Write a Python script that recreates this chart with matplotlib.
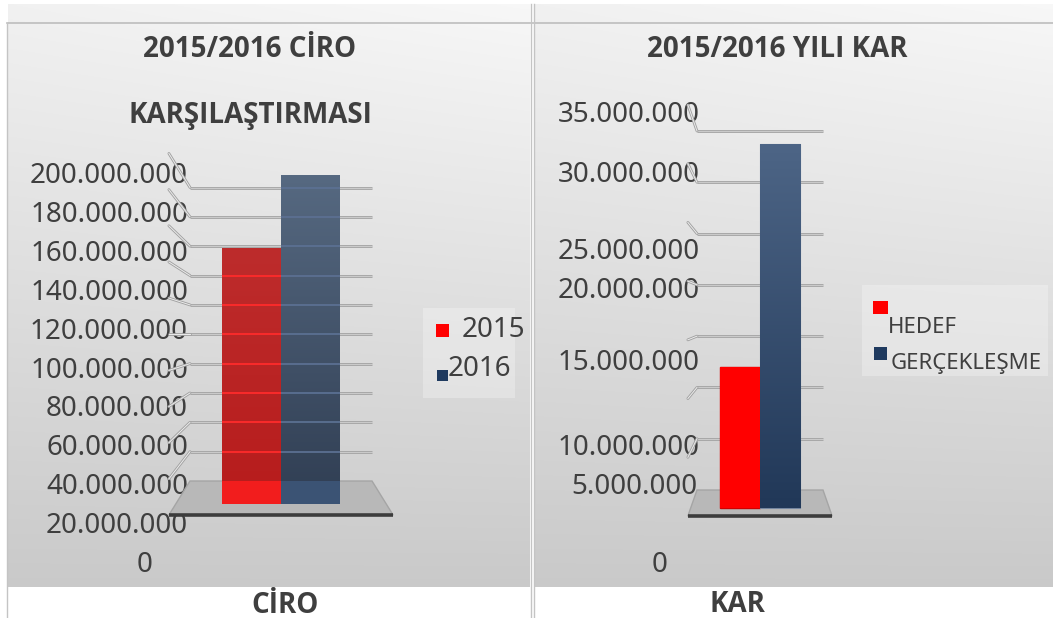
import numpy as np
import matplotlib.pyplot as plt
from matplotlib.colors import to_rgb
from matplotlib.patches import Polygon, Rectangle

W, H = 1053, 618

# data
ciro_labels = ['2015', '2016']
ciro_values = [151_000_000, 194_000_000]
ciro_ticks = list(range(0, 200_000_001, 20_000_000))

kar_labels = ['HEDEF', 'GERÇEKLEŞME']
kar_values = [12_500_000, 32_300_000]
kar_ticks = list(range(0, 35_000_001, 5_000_000))

# colours
TEXT = '#3f3f3f'
FONT = ['Noto Sans', 'DejaVu Sans']
TITLE_FONT = ['Open Sans', 'DejaVu Sans']
legend_colors = ['#ff0000', '#1f3a5f']
ciro_grad = [('#bd2c2c', '#b71c1c'), ('#566981', '#303e53')]
ciro_lower = ['#f21d1d', '#3b5374']
ciro_tint = ['#ff2b2b', '#5b7092']
kar_grad = [('#ff0000', '#ff0000'), ('#4d6586', '#213858')]

# label rows of the value axis on the KAR chart are not evenly spaced in the original
KAR_LABEL_Y = [562, 484, 445, 360, 288, 249, 172, 112]


def fmt(v):
    return f'{v:,}'.replace(',', '.')


fig = plt.figure(figsize=(W / 100, H / 100), dpi=100)
fig.patch.set_facecolor('white')
bg = fig.add_axes([0, 0, 1, 1])
bg.axis('off')
bg.set_autoscale_on(False)
bg.set_xlim(0, W)
bg.set_ylim(H, 0)


def panel(x0, x1, y0, y1):
    yy = np.linspace(0, 1, 300)[:, None]
    xx = np.linspace(0, 1, 60)[None, :]
    v = 0.945 - 0.155 * yy + 0.025 * xx * (1 - yy)
    bg.imshow(np.dstack([v, v, v]), extent=(x0, x1, y1, y0), aspect='auto',
              interpolation='bilinear', zorder=0)


panel(8, 530, 4, 587)
panel(535, W, 4, 587)
bg.plot([7, W], [23, 23], color='#bdbdbd', lw=1.2, zorder=1)
for xl in (7, 531, 534):
    bg.plot([xl, xl], [4 if xl > 7 else 23, H], color='#c4c4c4', lw=1.0, zorder=1)


def chart_axes(box, x0_px, x_px, y0_px, y_px):
    l, t, r, b = box
    ax = fig.add_axes([l / W, 1 - b / H, (r - l) / W, (b - t) / H])
    ax.set_autoscale_on(False)
    ax.set_xlim((l - x0_px) / x_px, (r - x0_px) / x_px)
    ax.set_ylim((y0_px - b) / y_px, (y0_px - t) / y_px)
    ax.axis('off')
    return ax


def proj(x, v, k, vc):
    # simple perspective: k=1 is the back wall, k>1 comes towards the viewer
    return 0.5 + (np.asarray(x) - 0.5) * k, vc + (np.asarray(v) - vc) * k


def gradient_fill(ax, patch, top, bottom, z):
    x0, y0 = patch.get_xy()
    w, h = patch.get_width(), patch.get_height()
    c0, c1 = np.array(to_rgb(top)), np.array(to_rgb(bottom))
    t = np.linspace(0, 1, 100)[:, None]
    img = (c0 * (1 - t) + c1 * t)[:, None, :]
    im = ax.imshow(img, extent=(x0, x0 + w, y0, y0 + h), aspect='auto',
                   origin='upper', zorder=z, interpolation='bilinear')
    im.set_clip_path(patch)


def draw_wall(ax, ticks, vc, kf):
    for g in ticks[1:]:
        ax.plot([0, 1], [g, g], color='#a3a3a3', lw=2.0, solid_capstyle='butt', zorder=2)
        ax.plot([0, 1], [g, g], color='#d2d2d2', lw=0.6, zorder=2)
        xs, ys = proj([0.0, 0.0], [g, g], np.array([1.0, kf]), vc)
        ax.plot(xs, ys, color='#a0a0a0', lw=2.0, solid_capstyle='round', zorder=2)
        ax.plot(xs, ys, color='#ececec', lw=0.7, zorder=2)
    corners = [proj(0, 0, 1, vc), proj(1, 0, 1, vc), proj(1, 0, kf, vc), proj(0, 0, kf, vc)]
    ax.add_patch(Polygon(corners, closed=True, facecolor='#b8b8b8',
                         edgecolor='#a5a5a5', lw=1, zorder=1))
    (fx0, fy), (fx1, _) = corners[3], corners[2]
    ax.plot([fx0, fx1], [fy, fy], color='#3c3c3c', lw=2.6, solid_capstyle='butt', zorder=5)


def draw_bars(ax, values, width, kb, vc, grads):
    n = len(values)
    xb = 0.5 + (np.arange(n) - (n - 1) / 2) * width
    xp, yb = proj(xb, np.zeros(n), kb, vc)
    bars = ax.bar(xp, np.array(values) * kb, width=width * kb, bottom=yb,
                  color=[g[1] for g in grads], lw=0, zorder=3)
    for b, (top, bottom) in zip(bars, grads):
        gradient_fill(ax, b, top, bottom, 3.1)
    return bars, xp, yb


# ---- CIRO chart ----
vc1, kf1, kb1 = ciro_ticks[-1] / 2, 1.232, 1.157
ax1 = chart_axes((8, 23, 530, 587), 190, 182, 481, 1.4675e-6)
draw_wall(ax1, ciro_ticks, vc1, kf1)
bars1, xp1, yb1 = draw_bars(ax1, ciro_values, 0.28, kb1, vc1, ciro_grad)
for i, b in enumerate(bars1):
    # part of the bar standing in front of the floor looks brighter
    ax1.bar(xp1[i], -yb1[i], width=0.28 * kb1, bottom=yb1[i], color=ciro_lower[i], lw=0, zorder=3.2)
    for g in ciro_ticks[1:]:
        ln, = ax1.plot([0, 1], [g, g], color=ciro_tint[i], lw=1.3, zorder=3.3)
        ln.set_clip_path(b)

# ---- KAR chart ----
vc2, kf2, kb2 = kar_ticks[-1] / 2, 1.145, 1.10
ax2 = chart_axes((535, 23, W, 587), 697, 126, 490, 10.257e-6)
draw_wall(ax2, kar_ticks, vc2, kf2)
bars2, _, _ = draw_bars(ax2, kar_values, 0.29, kb2, vc2, kar_grad)
bars2[0].set_edgecolor('#d00000')
bars2[0].set_linewidth(1.0)
bars2[1].set_edgecolor('#7486a0')
bars2[1].set_linewidth(0.8)

# ---- value labels ----
for v in ciro_ticks:
    y = 562 - v / ciro_ticks[-1] * (562 - 173)
    x, ha = (145, 'center') if v == 0 else (188, 'right')
    bg.text(x, y + 10, fmt(v), ha=ha, va='baseline', fontsize=20, color=TEXT, family=FONT, zorder=4)

for v, y in zip(kar_ticks, KAR_LABEL_Y):
    if v == 0:
        x, ha = 660, 'center'
    else:
        x, ha = (697 if v < 10_000_000 else 700), 'right'
    bg.text(x, y + 10, fmt(v), ha=ha, va='baseline', fontsize=20, color=TEXT, family=FONT, zorder=4)

# ---- titles ----
bg.text(250, 57, '2015/2016 CİRO', ha='center', va='baseline', fontsize=20,
        fontweight='bold', color=TEXT, family=TITLE_FONT)
bg.text(250, 123, 'KARŞILAŞTIRMASI', ha='center', va='baseline', fontsize=20,
        fontweight='bold', color=TEXT, family=TITLE_FONT)
bg.text(777, 57, '2015/2016 YILI KAR', ha='center', va='baseline', fontsize=20,
        fontweight='bold', color=TEXT, family=TITLE_FONT)
bg.text(285, 613, 'CİRO', ha='center', va='baseline', fontsize=20,
        fontweight='bold', color=TEXT, family=TITLE_FONT)
bg.text(737, 612, 'KAR', ha='center', va='baseline', fontsize=20,
        fontweight='bold', color=TEXT, family=TITLE_FONT)

# ---- legends ----
bg.add_patch(Rectangle((423, 308), 92, 90, facecolor='white', alpha=0.28, lw=0, zorder=2))
bg.add_patch(Rectangle((436, 324), 13, 13, facecolor=legend_colors[0], lw=0, zorder=3))
bg.add_patch(Rectangle((437, 370), 11, 11, facecolor=legend_colors[1], lw=0, zorder=3))
bg.text(462, 337, ciro_labels[0], fontsize=20, color=TEXT, family=FONT, va='baseline', zorder=4)
bg.text(448, 376, ciro_labels[1], fontsize=20, color=TEXT, family=FONT, va='baseline', zorder=4)

bg.add_patch(Rectangle((862, 285), 186, 91, facecolor='white', alpha=0.28, lw=0, zorder=2))
bg.add_patch(Rectangle((873, 301), 15, 13, facecolor=legend_colors[0], lw=0, zorder=3))
bg.add_patch(Rectangle((874, 347), 13, 13, facecolor=legend_colors[1], lw=0, zorder=3))
bg.text(888, 333, kar_labels[0], fontsize=16, color=TEXT, family=FONT, va='baseline', zorder=4)
bg.text(891, 369, kar_labels[1], fontsize=16, color=TEXT, family=FONT, va='baseline', zorder=4)

fig.savefig('out.png', dpi=100)
